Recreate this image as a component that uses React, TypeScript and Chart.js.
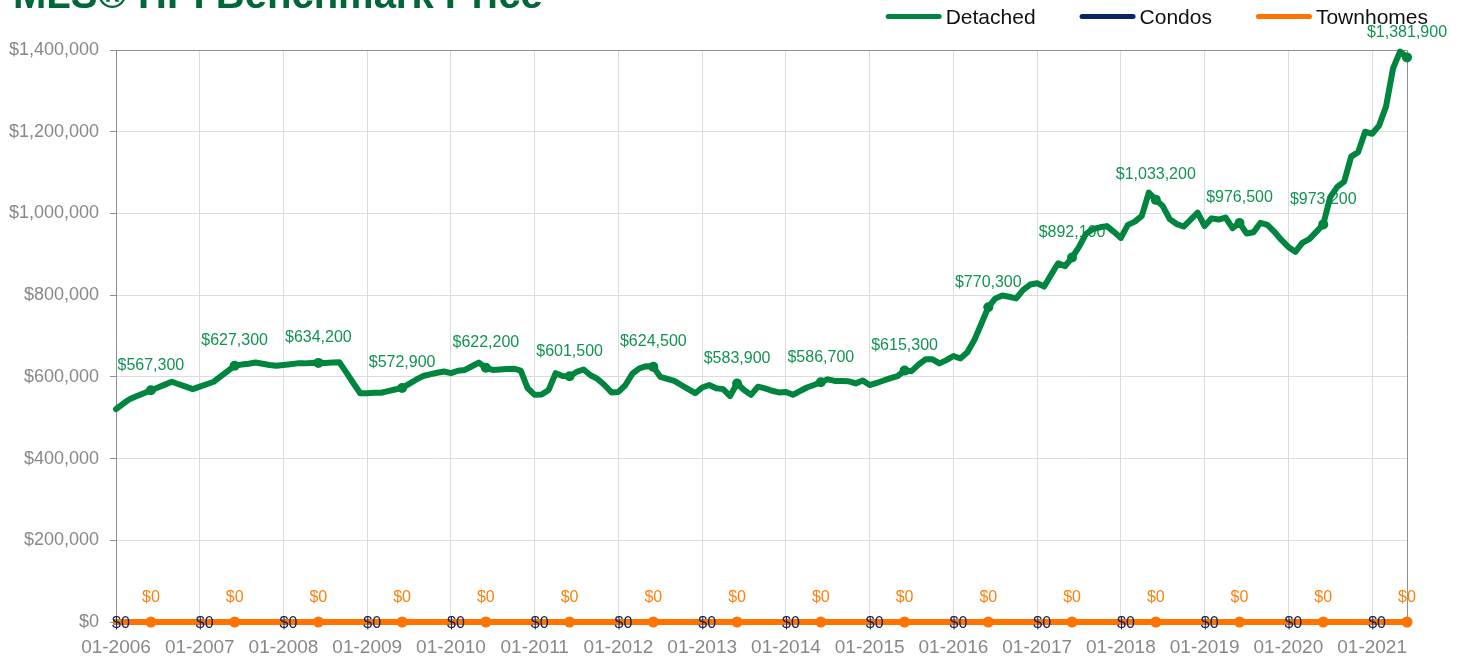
import { useEffect, useRef } from 'react';
import { Chart, registerables } from 'chart.js';

Chart.register(...registerables);

const TITLE = 'MLS® HPI Benchmark Price';
const START_YEAR = 2006;
const SERIES_NAMES = ['Detached', 'Condos', 'Townhomes'];

// Monthly benchmark price, 01-2006 .. 06-2021
const DETACHED = [
  521000, 534000, 546000, 553000, 560000, 567300, 574000, 581000, 588000, 582000, 576000, 570000,
  576000, 582000, 588000, 601000, 614000, 627300, 630000, 632000, 635000, 632000, 629000, 627000,
  629000, 631000, 633000, 633000, 634000, 634200, 634000, 635000, 636000, 611000, 585000, 560000,
  560000, 561000, 561000, 565000, 569000, 572900, 583000, 593000, 602000, 606000, 610000, 613000,
  609000, 615000, 617000, 626000, 635000, 622200, 617000, 618000, 619000, 620000, 615000, 572000,
  556000, 557000, 568000, 609000, 602000, 601500, 612000, 618000, 604000, 595000, 580000, 562000,
  563000, 580000, 608000, 621000, 626000, 624500, 600000, 595000, 590000, 580000, 570000, 560000,
  574000, 580000, 572000, 570000, 553000, 583900, 568000, 556000, 576000, 572000, 566000, 562000,
  563000, 556000, 565000, 574000, 580000, 586700, 594000, 590000, 590000, 589000, 584000, 591000,
  580000, 585000, 591000, 597000, 602000, 615300, 614000, 630000, 643000, 643000, 633000, 641000,
  651000, 645000, 660000, 690000, 730000, 770300, 792000, 799000, 796000, 792000, 813000, 826000,
  829000, 821000, 850000, 878000, 871000, 892100, 918000, 950000, 962000, 966000, 969000, 955000,
  940000, 972000, 980000, 994000, 1051000, 1033200, 1018000, 986000, 974000, 968000, 985000, 1002000,
  969000, 988000, 985000, 990000, 964000, 976500, 951000, 954000, 977000, 972000, 955000, 935000,
  918000, 906000, 928000, 937000, 955000, 973200, 1040000, 1065000, 1078000, 1139000, 1150000, 1200000,
  1195000, 1215000, 1262000, 1355000, 1396000, 1381900,
];

const CONDOS = [
  0, 0, 0, 0, 0, 0, 0, 0, 0, 0, 0, 0,
  0, 0, 0, 0, 0, 0, 0, 0, 0, 0, 0, 0,
  0, 0, 0, 0, 0, 0, 0, 0, 0, 0, 0, 0,
  0, 0, 0, 0, 0, 0, 0, 0, 0, 0, 0, 0,
  0, 0, 0, 0, 0, 0, 0, 0, 0, 0, 0, 0,
  0, 0, 0, 0, 0, 0, 0, 0, 0, 0, 0, 0,
  0, 0, 0, 0, 0, 0, 0, 0, 0, 0, 0, 0,
  0, 0, 0, 0, 0, 0, 0, 0, 0, 0, 0, 0,
  0, 0, 0, 0, 0, 0, 0, 0, 0, 0, 0, 0,
  0, 0, 0, 0, 0, 0, 0, 0, 0, 0, 0, 0,
  0, 0, 0, 0, 0, 0, 0, 0, 0, 0, 0, 0,
  0, 0, 0, 0, 0, 0, 0, 0, 0, 0, 0, 0,
  0, 0, 0, 0, 0, 0, 0, 0, 0, 0, 0, 0,
  0, 0, 0, 0, 0, 0, 0, 0, 0, 0, 0, 0,
  0, 0, 0, 0, 0, 0, 0, 0, 0, 0, 0, 0,
  0, 0, 0, 0, 0, 0,
];

const TOWNHOMES = [
  0, 0, 0, 0, 0, 0, 0, 0, 0, 0, 0, 0,
  0, 0, 0, 0, 0, 0, 0, 0, 0, 0, 0, 0,
  0, 0, 0, 0, 0, 0, 0, 0, 0, 0, 0, 0,
  0, 0, 0, 0, 0, 0, 0, 0, 0, 0, 0, 0,
  0, 0, 0, 0, 0, 0, 0, 0, 0, 0, 0, 0,
  0, 0, 0, 0, 0, 0, 0, 0, 0, 0, 0, 0,
  0, 0, 0, 0, 0, 0, 0, 0, 0, 0, 0, 0,
  0, 0, 0, 0, 0, 0, 0, 0, 0, 0, 0, 0,
  0, 0, 0, 0, 0, 0, 0, 0, 0, 0, 0, 0,
  0, 0, 0, 0, 0, 0, 0, 0, 0, 0, 0, 0,
  0, 0, 0, 0, 0, 0, 0, 0, 0, 0, 0, 0,
  0, 0, 0, 0, 0, 0, 0, 0, 0, 0, 0, 0,
  0, 0, 0, 0, 0, 0, 0, 0, 0, 0, 0, 0,
  0, 0, 0, 0, 0, 0, 0, 0, 0, 0, 0, 0,
  0, 0, 0, 0, 0, 0, 0, 0, 0, 0, 0, 0,
  0, 0, 0, 0, 0, 0,
];

// Month-of-year (0-based) at which each series shows its value label
const LABEL_MONTH = [5, 0, 5];

const Y_MIN = 0;
const Y_MAX = 1400000;
const Y_STEP = 200000;

const MONTH_LABELS = DETACHED.map((_, i) => {
  const m = (i % 12) + 1;
  const y = START_YEAR + Math.floor(i / 12);
  return `${String(m).padStart(2, '0')}-${y}`;
});

const LINE_COLORS = ['#00853f', '#0b2463', '#ff7300'];
const LABEL_COLORS = ['#12934f', '#0b2463', '#ff7f0e'];
const FONT = '"Liberation Sans", Arial, Helvetica, sans-serif';

const money = (v: number) => '$' + Math.round(v).toLocaleString('en-US');

const decorPlugin = {
  id: 'decor',
  beforeDatasetsDraw(chart: any) {
    const { ctx, chartArea: a } = chart;
    ctx.save();
    ctx.strokeStyle = '#8f8f8f';
    ctx.lineWidth = 1;
    ctx.beginPath();
    ctx.moveTo(a.left, Math.round(a.top) + 0.5);
    ctx.lineTo(Math.round(a.right) + 0.5, Math.round(a.top) + 0.5);
    ctx.lineTo(Math.round(a.right) + 0.5, a.bottom);
    ctx.stroke();
    ctx.restore();
  },
  beforeDatasetDraw(chart: any, args: any) {
    if (args.index !== 0) return;
    const ctx = chart.ctx;
    ctx.save();
    ctx.font = `16px ${FONT}`;
    ctx.textAlign = 'center';
    ctx.textBaseline = 'middle';
    const offsets = [
      { dx: 0, dy: -25 },
      { dx: 5, dy: 2 },
      { dx: 0, dy: -24 },
    ];
    chart.data.datasets.forEach((ds: any, di: number) => {
      const meta = chart.getDatasetMeta(di);
      ctx.fillStyle = LABEL_COLORS[di];
      meta.data.forEach((pt: any, i: number) => {
        if (i % 12 !== LABEL_MONTH[di] && i !== ds.data.length - 1) return;
        if (i === ds.data.length - 1 && i % 12 !== LABEL_MONTH[di] && di !== 0) return;
        ctx.fillText(money(ds.data[i]), pt.x + offsets[di].dx, pt.y + offsets[di].dy);
      });
    });
    ctx.restore();
  },
  afterDraw(chart: any) {
    const ctx = chart.ctx;
    ctx.save();
    // Title (cut off at the top of the picture)
    ctx.font = `bold 40px ${FONT}`;
    ctx.fillStyle = '#006838';
    ctx.textAlign = 'left';
    ctx.textBaseline = 'alphabetic';
    ctx.fillText(TITLE, 13, 8);

    // Legend, right aligned
    ctx.font = `21px ${FONT}`;
    const boxW = 56;
    const boxH = 5;
    const gapBoxText = 4;
    const gapItems = 44;
    let x = 1428;
    const items = chart.data.datasets.map((d: any, i: number) => ({ text: d.label, color: LINE_COLORS[i] }));
    const positions: number[] = [];
    for (let i = items.length - 1; i >= 0; i--) {
      const w = ctx.measureText(items[i].text).width;
      const start = x - w - gapBoxText - boxW;
      positions[i] = start;
      x = start - gapItems;
    }
    items.forEach((it: any, i: number) => {
      const bx = positions[i];
      ctx.fillStyle = it.color;
      ctx.beginPath();
      ctx.moveTo(bx + boxH / 2, 14);
      ctx.lineTo(bx + boxW - boxH / 2, 14);
      ctx.arc(bx + boxW - boxH / 2, 14 + boxH / 2, boxH / 2, -Math.PI / 2, Math.PI / 2);
      ctx.lineTo(bx + boxH / 2, 14 + boxH);
      ctx.arc(bx + boxH / 2, 14 + boxH / 2, boxH / 2, Math.PI / 2, Math.PI * 1.5);
      ctx.closePath();
      ctx.fill();
      ctx.fillStyle = '#111111';
      ctx.textAlign = 'left';
      ctx.textBaseline = 'alphabetic';
      ctx.fillText(it.text, bx + boxW + gapBoxText, 24);
    });
    ctx.restore();
  },
};

export default function App() {
  const ref = useRef<HTMLCanvasElement | null>(null);

  useEffect(() => {
    if (!ref.current) return;
    Chart.defaults.font.family = FONT;
    const seriesData = [DETACHED, CONDOS, TOWNHOMES];
    const orders = [0, 2, 1];
    const radii = [5, 0, 5.5];
    const chart = new Chart(ref.current, {
      type: 'line',
      data: {
        labels: MONTH_LABELS,
        datasets: seriesData.map((d, i) => ({
          label: SERIES_NAMES[i],
          data: d,
          order: orders[i],
          borderColor: LINE_COLORS[i],
          backgroundColor: LINE_COLORS[i],
          borderWidth: 6,
          borderJoinStyle: 'round' as const,
          borderCapStyle: 'round' as const,
          tension: 0,
          fill: false,
          clip: false as any,
          pointBorderWidth: 0,
          pointRadius: (c: any) => (c.dataIndex % 12 === LABEL_MONTH[i] && i !== 1 ? radii[i] : 0),
          pointHoverRadius: 0,
        })),
      },
      options: {
        animation: false,
        responsive: true,
        maintainAspectRatio: false,
        events: [],
        layout: { padding: { top: 50, right: 57, left: 0, bottom: 0 } },
        plugins: {
          legend: { display: false },
          title: { display: false },
          tooltip: { enabled: false },
        },
        scales: {
          x: {
            type: 'category',
            grid: { color: '#dcdcdc', drawTicks: false, lineWidth: 1 },
            border: { color: '#8f8f8f' },
            ticks: {
              autoSkip: false,
              maxRotation: 0,
              minRotation: 0,
              padding: 14,
              color: '#888888',
              font: { size: 19 },
              callback: (_v: any, i: number) => (i % 12 === 0 ? MONTH_LABELS[i] : null),
            },
            afterFit: (s: any) => {
              s.height = 36;
            },
          },
          y: {
            min: Y_MIN,
            max: Y_MAX,
            grid: { color: '#dcdcdc', tickColor: '#8f8f8f', tickLength: 6 },
            border: { color: '#8f8f8f' },
            ticks: {
              stepSize: Y_STEP,
              padding: 11,
              color: '#888888',
              font: { size: 18 },
              callback: (v: any) => money(Number(v)),
            },
            afterFit: (s: any) => {
              s.width = 116;
            },
          },
        },
      },
      plugins: [decorPlugin],
    } as any);
    return () => chart.destroy();
  }, []);

  return (
    <div style={{ position: 'absolute', left: 0, top: 0, width: 1464, height: 658 }}>
      <canvas ref={ref} />
    </div>
  );
}
